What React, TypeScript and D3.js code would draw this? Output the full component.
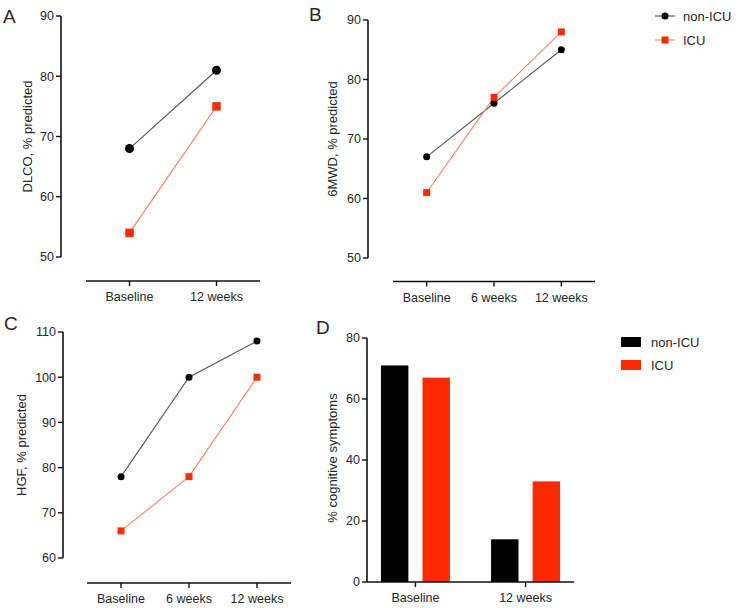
import React from "react";
import * as d3 from "d3";

const seriesNames = ["non-ICU", "ICU"];

const catsA = ["Baseline", "12 weeks"];
const dlcoNonICU = [68, 81];
const dlcoICU = [54, 75];
const ticksA = [50, 60, 70, 80, 90];

const catsB = ["Baseline", "6 weeks", "12 weeks"];
const mwdNonICU = [67, 76, 85];
const mwdICU = [61, 77, 88];
const ticksB = [50, 60, 70, 80, 90];

const catsC = ["Baseline", "6 weeks", "12 weeks"];
const hgfNonICU = [78, 100, 108];
const hgfICU = [66, 78, 100];
const ticksC = [60, 70, 80, 90, 100, 110];

const catsD = ["Baseline", "12 weeks"];
const cogNonICU = [71, 14];
const cogICU = [67, 33];
const ticksD = [0, 20, 40, 60, 80];

const FONT = "'Liberation Sans', Arial, Helvetica, sans-serif";
const TXT = "#262626";
const RED = "#ff2a00";
const RED_LINE = "#f2806d";
const GRAY_LINE = "#555";

type LineProps = {
  label: string;
  labelX: number;
  labelY: number;
  title: string;
  titleX: number;
  cats: string[];
  a: number[];
  b: number[];
  ticks: number[];
  axisX: number;
  yTop: number;
  yBot: number;
  xAxisY: number;
  xStart: number;
  xEnd: number;
  r: number;
  sq: number;
};

function LinePanel(p: LineProps) {
  const y = d3.scaleLinear().domain([p.ticks[0], p.ticks[p.ticks.length - 1]]).range([p.yBot, p.yTop]);
  const x = d3.scalePoint<string>().domain(p.cats).range([p.xStart, p.xEnd]).padding(0.5);
  const line = d3
    .line<number>()
    .x((_, i) => x(p.cats[i]) as number)
    .y((v) => y(v));
  const tcy = (p.yTop + p.yBot) / 2;
  return (
    <g fontFamily={FONT}>
      <text x={p.labelX} y={p.labelY} fontSize={19} fill={TXT}>{p.label}</text>
      <line x1={p.axisX} x2={p.axisX} y1={p.yTop} y2={p.yBot} stroke="#111" strokeWidth={1.6} />
      {p.ticks.map((t) => (
        <g key={t}>
          <line x1={p.axisX - 5} x2={p.axisX} y1={y(t)} y2={y(t)} stroke="#111" strokeWidth={1.4} />
          <text x={p.axisX - 7} y={y(t)} dy="0.35em" textAnchor="end" fontSize={12.5} fill={TXT}>{t}</text>
        </g>
      ))}
      <text transform={`translate(${p.titleX},${tcy}) rotate(-90)`} textAnchor="middle" dy="0.35em" fontSize={13} fill={TXT}>{p.title}</text>
      <line x1={p.xStart} x2={p.xEnd} y1={p.xAxisY} y2={p.xAxisY} stroke="#111" strokeWidth={1.6} />
      {p.cats.map((c) => (
        <g key={c}>
          <line x1={x(c)} x2={x(c)} y1={p.xAxisY} y2={p.xAxisY + 5} stroke="#111" strokeWidth={1.4} />
          <text x={x(c)} y={p.xAxisY + 20} textAnchor="middle" fontSize={12.5} fill={TXT}>{c}</text>
        </g>
      ))}
      <path d={line(p.a) || ""} fill="none" stroke={GRAY_LINE} strokeWidth={1.1} />
      <path d={line(p.b) || ""} fill="none" stroke={RED_LINE} strokeWidth={1.1} />
      {p.a.map((v, i) => (
        <circle key={"a" + i} cx={x(p.cats[i])} cy={y(v)} r={p.r} fill="#000" />
      ))}
      {p.b.map((v, i) => (
        <rect key={"b" + i} x={(x(p.cats[i]) as number) - p.sq / 2} y={y(v) - p.sq / 2} width={p.sq} height={p.sq} fill={RED} />
      ))}
    </g>
  );
}

function BarPanel() {
  const axisX = 367;
  const yTop = 338;
  const yBot = 582;
  const xEnd = 574;
  const y = d3.scaleLinear().domain([0, 80]).range([yBot, yTop]);
  const x = d3.scalePoint<string>().domain(catsD).range([axisX, xEnd]).padding(0.44);
  const sub = d3.scaleBand<string>().domain(seriesNames).range([-34.5, 34.5]).paddingInner(0.34);
  const vals = [cogNonICU, cogICU];
  const cols = ["#000", RED];
  return (
    <g fontFamily={FONT}>
      <text x={316} y={334} fontSize={19} fill={TXT}>D</text>
      {catsD.map((c, ci) =>
        seriesNames.map((s, si) => (
          <rect
            key={c + s}
            x={(x(c) as number) + (sub(s) as number)}
            y={y(vals[si][ci])}
            width={sub.bandwidth()}
            height={yBot - y(vals[si][ci])}
            fill={cols[si]}
          />
        ))
      )}
      <line x1={axisX} x2={axisX} y1={yTop} y2={yBot} stroke="#111" strokeWidth={1.6} />
      {ticksD.map((t) => (
        <g key={t}>
          <line x1={axisX - 5} x2={axisX} y1={y(t)} y2={y(t)} stroke="#111" strokeWidth={1.4} />
          <text x={axisX - 7} y={y(t)} dy="0.35em" textAnchor="end" fontSize={12.5} fill={TXT}>{t}</text>
        </g>
      ))}
      <text transform={`translate(332,458) rotate(-90)`} textAnchor="middle" dy="0.35em" fontSize={13} fill={TXT}>% cognitive symptoms</text>
      <line x1={axisX} x2={xEnd} y1={yBot} y2={yBot} stroke="#111" strokeWidth={1.6} />
      {catsD.map((c) => (
        <g key={c}>
          <line x1={x(c)} x2={x(c)} y1={yBot} y2={yBot + 5} stroke="#111" strokeWidth={1.4} />
          <text x={x(c)} y={yBot + 20} textAnchor="middle" fontSize={12.5} fill={TXT}>{c}</text>
        </g>
      ))}
      {seriesNames.map((s, i) => (
        <g key={s}>
          <rect x={621} y={337 + i * 23} width={20} height={10} fill={cols[i]} />
          <text x={651} y={342 + i * 23} dy="0.35em" fontSize={13} fill={TXT}>{s}</text>
        </g>
      ))}
    </g>
  );
}

function TopLegend() {
  return (
    <g fontFamily={FONT}>
      {seriesNames.map((s, i) => (
        <g key={s}>
          <line x1={655} x2={675} y1={16 + i * 24} y2={16 + i * 24} stroke={i === 0 ? GRAY_LINE : RED_LINE} strokeWidth={1.1} />
          {i === 0 ? (
            <circle cx={665} cy={16} r={3.5} fill="#000" />
          ) : (
            <rect x={661.5} y={40 - 3.5} width={7} height={7} fill={RED} />
          )}
          <text x={683} y={16 + i * 24} dy="0.35em" fontSize={13} fill={TXT}>{s}</text>
        </g>
      ))}
    </g>
  );
}

export default function App() {
  return (
    <svg width={740} height={608} style={{ position: "absolute", left: 0, top: 0, background: "#fff" }}>
      <rect width={740} height={608} fill="#fff" />
      <LinePanel
        label="A" labelX={3} labelY={23} title="DLCO, % predicted" titleX={27}
        cats={catsA} a={dlcoNonICU} b={dlcoICU} ticks={ticksA}
        axisX={61} yTop={16} yBot={257} xAxisY={281} xStart={86} xEnd={260} r={4.5} sq={8.5}
      />
      <LinePanel
        label="B" labelX={309} labelY={21} title="6MWD, % predicted" titleX={332}
        cats={catsB} a={mwdNonICU} b={mwdICU} ticks={ticksB}
        axisX={368} yTop={20} yBot={258} xAxisY={281.5} xStart={393} xEnd={595} r={3.5} sq={7}
      />
      <LinePanel
        label="C" labelX={4} labelY={330} title="HGF, % predicted" titleX={21}
        cats={catsC} a={hgfNonICU} b={hgfICU} ticks={ticksC}
        axisX={63} yTop={332} yBot={558} xAxisY={583} xStart={87} xEnd={291} r={3.5} sq={7}
      />
      <BarPanel />
      <TopLegend />
    </svg>
  );
}
